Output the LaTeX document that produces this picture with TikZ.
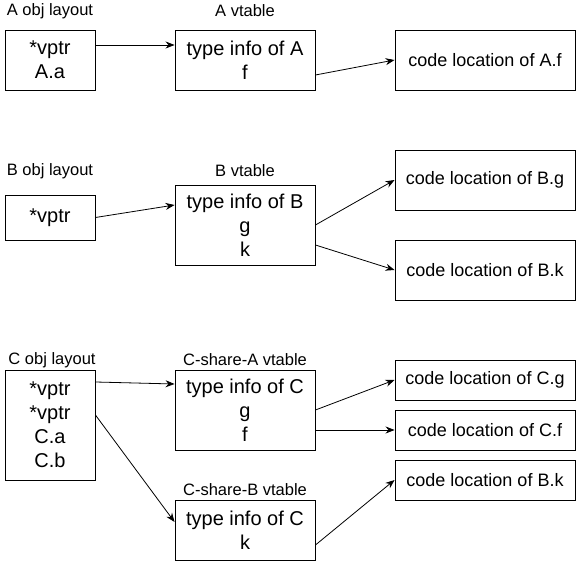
\documentclass[tikz,border=0pt]{standalone}
\usepackage{fontspec}
\setmainfont{Liberation Sans}
\usetikzlibrary{arrows.meta,positioning}

\begin{document}
\begin{tikzpicture}[x=1pt,y=-1pt,
objbox/.style={
  draw,
  line width=0.9pt,
  align=center,
  inner sep=0pt,
  minimum width=90pt,
  font={\fontsize{20pt}{24pt}\selectfont}},
vtbox/.style={
  objbox,
  minimum width=140pt},
codebox/.style={
  objbox,
  minimum width=180pt,
  font={\fontsize{18pt}{22pt}\selectfont}},
lbl/.style={
  inner sep=0pt,
  font={\fontsize{16.5pt}{20pt}\selectfont}},
ptr/.style={
  -{Stealth[length=9pt,width=7pt]},
  line width=0.8pt},
]
\useasboundingbox (0,0) rectangle (576,561);

% A
\node[objbox,minimum height=60pt] (aobj) at (50,60) {*vptr\\A.a};
\node[vtbox,minimum height=60pt] (avt) at (245,60) {type info of A\\f};
\node[codebox,minimum height=60pt] (af) at (485,60) {code location of A.f};
\node[lbl] (aobjl) at (50,11) {A obj layout};
\node[lbl] (avtl) at (245,11) {A vtable};

\draw[ptr] ([yshift=15pt]aobj.east) -- ([yshift=15pt]avt.west);
\draw[ptr] ([yshift=-15pt]avt.east) -- (af.west);

% B
\node[objbox,minimum height=45pt] (bobj) at (50,217.5) {*vptr};
\node[vtbox,minimum height=80pt] (bvt) at (245,225) {type info of B\\g\\k};
\node[codebox,minimum height=60pt] (bg) at (485,180) {code location of B.g};
\node[codebox,minimum height=60pt] (bk) at (485,270) {code location of B.k};
\node[lbl] (bobjl) at (50,171) {B obj layout};
\node[lbl] (bvtl) at (245,171) {B vtable};

\draw[ptr] (bobj.east) -- ([yshift=20pt]bvt.west);
\draw[ptr] (bvt.east) -- (bg.west);
\draw[ptr] ([yshift=-20pt]bvt.east) -- (bk.west);

% C
\node[objbox,minimum height=110pt] (cobj) at (50,425) {*vptr\\*vptr\\C.a\\C.b};
\node[vtbox,minimum height=80pt] (cavt) at (245,410) {type info of C\\g\\f};
\node[vtbox,minimum height=60pt] (cbvt) at (245,530) {type info of C\\k};
\node[codebox,minimum height=40pt] (cg) at (485,380) {code location of C.g};
\node[codebox,minimum height=40pt] (cf) at (485,430) {code location of C.f};
\node[codebox,minimum height=40pt] (cbk) at (485,480) {code location of B.k};
\node[lbl] (cobjl) at (52,360) {C obj layout};
\node[lbl] (cavtl) at (245,360) {C-share-A vtable};
\node[lbl] (cbvtl) at (245,490) {C-share-B vtable};

\draw[ptr] ([yshift=43pt]cobj.east) -- ([yshift=26pt]cavt.west);
\draw[ptr] ([yshift=10pt]cobj.east) -- ([yshift=8pt]cbvt.west);
\draw[ptr] (cavt.east) -- (cg.west);
\draw[ptr] ([yshift=-20pt]cavt.east) -- (cf.west);
\draw[ptr] ([yshift=-15pt]cbvt.east) -- (cbk.west);

\end{tikzpicture}
\end{document}
